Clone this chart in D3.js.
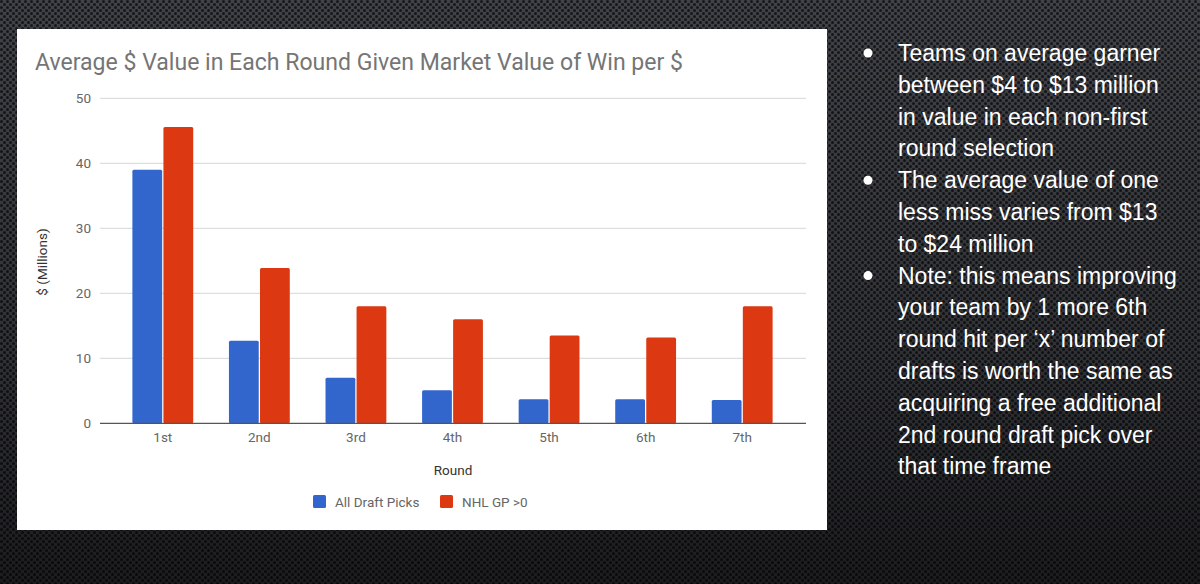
<!DOCTYPE html>
<html>
<head>
<meta charset="utf-8">
<script src="https://cdn.jsdelivr.net/npm/d3@7"></script>
<style>
  body { margin: 0; background: #222; }
  svg { display: block; }
</style>
</head>
<body>
<svg width="1200" height="584"></svg>
<script>
const rounds = ["1st", "2nd", "3rd", "4th", "5th", "6th", "7th"];
const allPicks = [39.0, 12.7, 7.0, 5.1, 3.7, 3.7, 3.6];
const nhlGp = [45.6, 23.9, 18.0, 16.0, 13.5, 13.2, 18.0];
const seriesNames = ["All Draft Picks", "NHL GP >0"];
const yTicks = [0, 10, 20, 30, 40, 50];
const bullets = [
	["Teams on average garner", "between $4 to $13 million", "in value in each non-first", "round selection"],
	["The average value of one", "less miss varies from $13", "to $24 million"],
	["Note: this means improving", "your team by 1 more 6th", "round hit per \u2018x\u2019 number of", "drafts is worth the same as", "acquiring a free additional", "2nd round draft pick over", "that time frame"],
];

const colors = ["#3366cc", "#dc3912"];

const svg = d3.select("svg");
const defs = svg.append("defs");

// carbon-ish dotted background
const pat = defs.append("pattern")
	.attr("id", "dots")
	.attr("width", 6)
	.attr("height", 6)
	.attr("patternUnits", "userSpaceOnUse");
pat.append("rect").attr("width", 6).attr("height", 6).attr("fill", "#44464b");
pat.append("circle").attr("cx", 1.5).attr("cy", 1.5).attr("r", 1.5).attr("fill", "#16171a");
pat.append("circle").attr("cx", 4.5).attr("cy", 4.5).attr("r", 1.5).attr("fill", "#16171a");

const shade = defs.append("linearGradient")
	.attr("id", "shade")
	.attr("x1", 0).attr("y1", 0).attr("x2", 0).attr("y2", 1);
shade.append("stop").attr("offset", "0%").attr("stop-color", "#000").attr("stop-opacity", 0.05);
shade.append("stop").attr("offset", "60%").attr("stop-color", "#000").attr("stop-opacity", 0.3);
shade.append("stop").attr("offset", "100%").attr("stop-color", "#000").attr("stop-opacity", 0.6);

svg.append("rect").attr("width", 1200).attr("height", 584).attr("fill", "url(#dots)");
svg.append("rect").attr("width", 1200).attr("height", 584).attr("fill", "url(#shade)");

// white chart card
svg.append("rect")
	.attr("x", 17).attr("y", 29)
	.attr("width", 810).attr("height", 501)
	.attr("fill", "#fff");

const x = d3.scaleBand().domain(rounds).range([115, 790]).paddingInner(0.37).paddingOuter(0.18);
const xs = d3.scaleBand().domain([0, 1]).range([0, x.bandwidth()]).paddingInner(0.04);
const y = d3.scaleLinear().domain([0, 50]).range([423.3, 98.3]);

svg.append("text")
	.attr("x", 35).attr("y", 70)
	.attr("font-family", "Roboto, sans-serif")
	.attr("font-size", 23)
	.attr("textLength", 648)
	.attr("lengthAdjust", "spacingAndGlyphs")
	.attr("fill", "#757575")
	.text("Average $ Value in Each Round Given Market Value of Win per $");

// gridlines
svg.append("g")
	.selectAll("line")
	.data(yTicks.filter(d => d > 0))
	.join("line")
	.attr("x1", 100).attr("x2", 806)
	.attr("y1", d => y(d)).attr("y2", d => y(d))
	.attr("stroke", "#d6d6d6").attr("stroke-width", 1);

// y tick labels
svg.append("g")
	.selectAll("text")
	.data(yTicks)
	.join("text")
	.attr("x", 91).attr("y", d => y(d) + 5)
	.attr("text-anchor", "end")
	.attr("font-family", "Roboto, sans-serif")
	.attr("font-size", 13.5)
	.attr("fill", "#666")
	.text(d => d);

// bars
const groups = svg.append("g")
	.selectAll("g")
	.data(rounds)
	.join("g")
	.attr("transform", d => `translate(${x(d)},0)`);

groups.selectAll("rect")
	.data((d, i) => [allPicks[i], nhlGp[i]])
	.join("rect")
	.attr("x", (d, j) => xs(j))
	.attr("width", xs.bandwidth())
	.attr("y", d => y(d))
	.attr("height", d => y(0) - y(d))
	.attr("rx", 1.5)
	.attr("fill", (d, j) => colors[j]);

// baseline
svg.append("line")
	.attr("x1", 100).attr("x2", 806)
	.attr("y1", y(0)).attr("y2", y(0))
	.attr("stroke", "#555").attr("stroke-width", 1.2);

// x labels
svg.append("g")
	.selectAll("text")
	.data(rounds)
	.join("text")
	.attr("x", d => x(d) + x.bandwidth() / 2)
	.attr("y", 442)
	.attr("text-anchor", "middle")
	.attr("font-family", "Roboto, sans-serif")
	.attr("font-size", 13.5)
	.attr("fill", "#666")
	.text(d => d);

svg.append("text")
	.attr("x", 453).attr("y", 475)
	.attr("text-anchor", "middle")
	.attr("font-family", "Roboto, sans-serif")
	.attr("font-size", 13.5)
	.attr("fill", "#333")
	.text("Round");

svg.append("text")
	.attr("transform", "translate(47,262) rotate(-90)")
	.attr("text-anchor", "middle")
	.attr("font-family", "Roboto, sans-serif")
	.attr("font-size", 13.5)
	.attr("fill", "#333")
	.text("$ (Millions)");

// legend
const legendX = [313, 440];
const legend = svg.append("g")
	.selectAll("g")
	.data(seriesNames)
	.join("g")
	.attr("transform", (d, i) => `translate(${legendX[i]},495)`);
legend.append("rect")
	.attr("width", 13).attr("height", 13).attr("rx", 1.5)
	.attr("fill", (d, i) => colors[i]);
legend.append("text")
	.attr("x", 22).attr("y", 11.5)
	.attr("font-family", "Roboto, sans-serif")
	.attr("font-size", 13.5)
	.attr("fill", "#666")
	.text(d => d);

// bullet text on the right
const lineH = 31.8;
let line = 0;
const notes = svg.append("g")
	.attr("font-family", "'Liberation Sans', Arial, sans-serif")
	.attr("font-size", 23)
	.attr("fill", "#fff");
bullets.forEach(b => {
	notes.append("circle")
		.attr("cx", 868).attr("cy", 53 + line * lineH)
		.attr("r", 4.5).attr("fill", "#fff");
	b.forEach(t => {
		notes.append("text")
			.attr("x", 898).attr("y", 53 + line * lineH + 8)
			.text(t);
		line++;
	});
});
</script>
</body>
</html>
